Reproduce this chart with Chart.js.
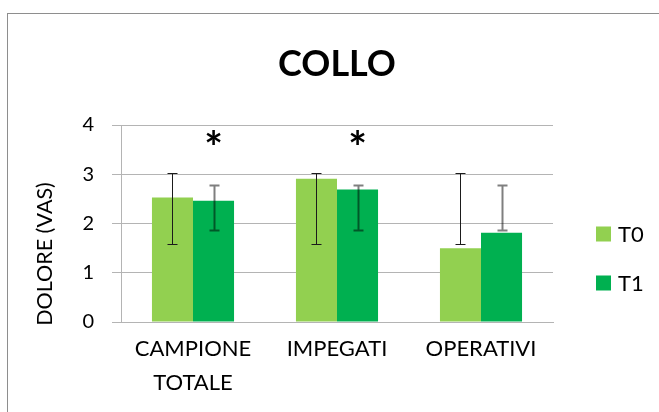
<!DOCTYPE html>
<html>
<head>
<meta charset="utf-8">
<script src="https://cdn.jsdelivr.net/npm/chart.js@4"></script>
<style>
  html, body { margin: 0; padding: 0; background: #fff; }
  #wrap { width: 659px; height: 412px; }
</style>
</head>
<body>
<div id="wrap"><canvas id="c" width="659" height="412"></canvas></div>
<script>
// Neck pain (VAS) before/after, per group
const categories = [['CAMPIONE', 'TOTALE'], 'IMPEGATI', 'OPERATIVI'];
const seriesNames = ['T0', 'T1'];
const t0Values = [2.53, 2.91, 1.50];
const t1Values = [2.46, 2.69, 1.81];
// error bar ends (low / high) for each bar
const t0Low = [1.59, 1.59, 1.59];
const t0High = [3.03, 3.03, 3.03];
const t1Low = [1.86, 1.86, 1.86];
const t1High = [2.78, 2.78, 2.78];
// significance markers above T1 bars
const t1Marks = ['*', '*', ''];
const yTicks = [0, 1, 2, 3, 4];

const FONT = 'Lato, "Open Sans", sans-serif';
const colors = ['#92D050', '#00B050'];

// frame, title, axis title, legend, error bars and markers
const decorations = {
  id: 'decorations',
  beforeDraw(chart) {
    const ctx = chart.ctx;
    ctx.save();
    ctx.fillStyle = '#fff';
    ctx.fillRect(0, 0, chart.width, chart.height);
    ctx.strokeStyle = '#8e8e8e';
    ctx.lineWidth = 1;
    ctx.strokeRect(7.5, 13.5, 800, 600);
    ctx.restore();
  },
  afterDatasetsDraw(chart) {
    const ctx = chart.ctx;
    const y = chart.scales.y;
    const bars = [
      { meta: chart.getDatasetMeta(0), low: t0Low, high: t0High, stroke: '#1b1b1b', w: 1 },
      { meta: chart.getDatasetMeta(1), low: t1Low, high: t1High, stroke: 'rgba(0,0,0,0.5)', w: 2 }
    ];
    ctx.save();
    bars.forEach(b => {
      b.meta.data.forEach((el, i) => {
        const x = Math.round(el.x) + 0.5;
        const yl = Math.round(y.getPixelForValue(b.low[i])) + 0.5;
        const yh = Math.round(y.getPixelForValue(b.high[i])) + 0.5;
        ctx.strokeStyle = b.stroke;
        ctx.lineWidth = b.w;
        ctx.beginPath();
        ctx.moveTo(x, yl); ctx.lineTo(x, yh);
        ctx.moveTo(x - 5, yl); ctx.lineTo(x + 5, yl);
        ctx.moveTo(x - 5, yh); ctx.lineTo(x + 5, yh);
        ctx.stroke();
      });
    });
    // asterisks
    ctx.fillStyle = '#000';
    ctx.font = 'bold 44px ' + FONT;
    ctx.textAlign = 'center';
    ctx.textBaseline = 'middle';
    chart.getDatasetMeta(1).data.forEach((el, i) => {
      if (t1Marks[i]) ctx.fillText(t1Marks[i], el.x, 149);
    });
    ctx.restore();
  },
  afterDraw(chart) {
    const ctx = chart.ctx;
    ctx.save();
    ctx.fillStyle = '#000';
    ctx.textBaseline = 'middle';
    // title
    ctx.font = 'bold 36px ' + FONT;
    ctx.textAlign = 'center';
    ctx.fillText('COLLO', 337, 64);
    // y axis title
    ctx.save();
    ctx.translate(45, 254);
    ctx.rotate(-Math.PI / 2);
    ctx.font = '21.5px ' + FONT;
    ctx.fillText('DOLORE (VAS)', 0, 0);
    ctx.restore();
    // legend
    ctx.font = '22px ' + FONT;
    ctx.textAlign = 'left';
    seriesNames.forEach((name, i) => {
      const cy = 234 + i * 49;
      ctx.fillStyle = colors[i];
      ctx.fillRect(596, cy - 7.5, 15, 15);
      ctx.fillStyle = '#000';
      ctx.fillText(name, 618, cy + 1);
    });
    ctx.restore();
  }
};

new Chart(document.getElementById('c'), {
  type: 'bar',
  data: {
    labels: categories,
    datasets: [
      { label: seriesNames[0], data: t0Values, backgroundColor: colors[0] },
      { label: seriesNames[1], data: t1Values, backgroundColor: colors[1] }
    ]
  },
  options: {
    responsive: false,
    animation: false,
    layout: { padding: { top: 125, left: 15, right: 106, bottom: 0 } },
    datasets: { bar: { barPercentage: 1, categoryPercentage: 0.57 } },
    plugins: { legend: { display: false }, title: { display: false }, tooltip: { enabled: false } },
    scales: {
      x: {
        grid: { display: false, drawTicks: false },
        border: { display: true, color: '#b4b4b4' },
        ticks: { color: '#000', padding: 10, maxRotation: 0, autoSkip: false,
                 font: { family: FONT, size: 22, lineHeight: 1.55 } },
        afterFit(s) { s.height = 90; }
      },
      y: {
        min: 0, max: 4,
        afterBuildTicks(s) { s.ticks = yTicks.map(v => ({ value: v })); },
        grid: { color: '#b4b4b4', lineWidth: 1, tickLength: 9 },
        border: { display: true, color: '#b4b4b4' },
        ticks: { color: '#000', padding: 18, font: { family: FONT, size: 20 } },
        afterFit(s) { s.width = 106; }
      }
    }
  },
  plugins: [decorations]
});
</script>
</body>
</html>
